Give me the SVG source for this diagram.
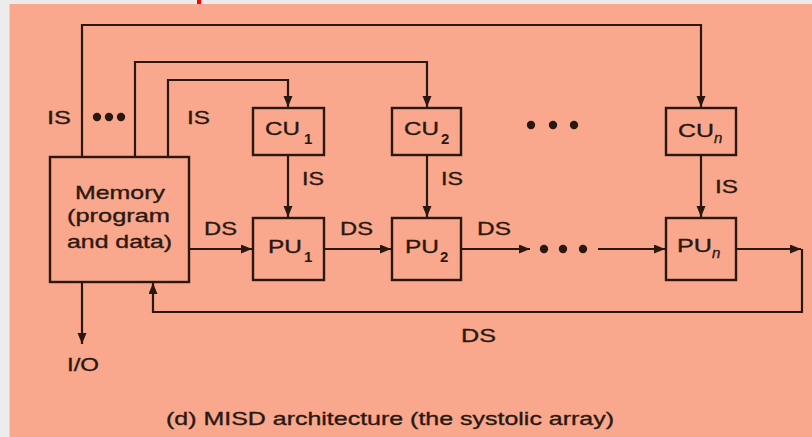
<svg xmlns="http://www.w3.org/2000/svg" width="812" height="437" viewBox="0 0 812 437">
<defs>
<marker id="ah" markerUnits="userSpaceOnUse" markerWidth="12" markerHeight="10" refX="11" refY="4.5" orient="auto">
<path d="M0,0 L11,4.5 L0,9 Z" fill="#2a1810"/>
</marker>
<style>
.bg{fill:#f9a88e}
.box{fill:none;stroke:#2a1810;stroke-width:2.4}
.ar{fill:none;stroke:#2a1810;stroke-width:2.2;marker-end:url(#ah)}
.t{font-family:"Liberation Sans",Arial,sans-serif;font-size:19px;fill:#2a1810;stroke:#2a1810;stroke-width:0.35}
.s{font-family:"Liberation Sans",Arial,sans-serif;font-size:15px;font-weight:bold;fill:#2a1810}
.si{font-family:"Liberation Sans",Arial,sans-serif;font-size:15px;font-style:italic;fill:#2a1810;stroke:#2a1810;stroke-width:0.35}
.dot{fill:#2a1810}
</style>
</defs>
<rect x="0" y="0" width="812" height="437" fill="#ececec"/>
<rect class="bg" x="9.5" y="4" width="802.5" height="433"/>
<rect x="197" y="0" width="4" height="4" fill="#ff0000"/>

<g id="connectors">
<path class="ar" d="M82,157 V25 H701 V107"/>
<path class="ar" d="M135,157 V62 H427 V107"/>
<path class="ar" d="M168,157 V80 H288 V107"/>
<path class="ar" d="M288,155 V217"/>
<path class="ar" d="M427,155 V217"/>
<path class="ar" d="M701,155 V217"/>
<path class="ar" d="M189,249 H252"/>
<path class="ar" d="M324,249 H391"/>
<path class="ar" d="M461,249 H530"/>
<path class="ar" d="M598,249 H665"/>
<path class="ar" d="M736,249 H801"/>
<path class="ar" d="M802,249 V312 H153 V283"/>
<path class="ar" d="M82,282 V344"/>
<circle class="dot" cx="97" cy="117" r="4.2"/>
<circle class="dot" cx="109" cy="117" r="4.2"/>
<circle class="dot" cx="121" cy="117" r="4.2"/>
<circle class="dot" cx="531" cy="125" r="4.2"/>
<circle class="dot" cx="553" cy="125" r="4.2"/>
<circle class="dot" cx="574" cy="125" r="4.2"/>
<circle class="dot" cx="544" cy="249" r="4.2"/>
<circle class="dot" cx="563" cy="249" r="4.2"/>
<circle class="dot" cx="583" cy="249" r="4.2"/>
<text class="t" x="47" y="124" textLength="24" lengthAdjust="spacingAndGlyphs">IS</text>
<text class="t" x="187" y="124" textLength="23" lengthAdjust="spacingAndGlyphs">IS</text>
<text class="t" x="302" y="185" textLength="22" lengthAdjust="spacingAndGlyphs">IS</text>
<text class="t" x="441" y="185" textLength="22" lengthAdjust="spacingAndGlyphs">IS</text>
<text class="t" x="715" y="193" textLength="23" lengthAdjust="spacingAndGlyphs">IS</text>
<text class="t" x="204" y="235" textLength="33" lengthAdjust="spacingAndGlyphs">DS</text>
<text class="t" x="340" y="235" textLength="33" lengthAdjust="spacingAndGlyphs">DS</text>
<text class="t" x="477" y="235" textLength="34" lengthAdjust="spacingAndGlyphs">DS</text>
<text class="t" x="461" y="342" textLength="35" lengthAdjust="spacingAndGlyphs">DS</text>
<text class="t" x="67" y="371" textLength="32" lengthAdjust="spacingAndGlyphs">I/O</text>
</g>

<g id="memory">
<rect class="box" x="50" y="157" width="139" height="125"/>
<text class="t" x="75" y="199" textLength="90" lengthAdjust="spacingAndGlyphs">Memory</text>
<text class="t" x="67" y="222" textLength="103" lengthAdjust="spacingAndGlyphs">(program</text>
<text class="t" x="67" y="248" textLength="105" lengthAdjust="spacingAndGlyphs">and data)</text>
</g>

<g id="cu1">
<rect class="box" x="253" y="108" width="71" height="47"/>
<text class="t" x="265" y="135" textLength="35" lengthAdjust="spacingAndGlyphs">CU</text>
<text class="s" x="304" y="144">1</text>
</g>
<g id="cu2">
<rect class="box" x="392" y="108" width="69" height="47"/>
<text class="t" x="404" y="135" textLength="35" lengthAdjust="spacingAndGlyphs">CU</text>
<text class="s" x="441" y="144">2</text>
</g>
<g id="cun">
<rect class="box" x="666" y="108" width="70" height="47"/>
<text class="t" x="678" y="137" textLength="36" lengthAdjust="spacingAndGlyphs">CU</text>
<text class="si" x="714" y="143">n</text>
</g>

<g id="pu1">
<rect class="box" x="253" y="218" width="71" height="62"/>
<text class="t" x="268" y="253" textLength="34" lengthAdjust="spacingAndGlyphs">PU</text>
<text class="s" x="304" y="262">1</text>
</g>
<g id="pu2">
<rect class="box" x="392" y="218" width="69" height="62"/>
<text class="t" x="405" y="253" textLength="34" lengthAdjust="spacingAndGlyphs">PU</text>
<text class="s" x="440" y="262">2</text>
</g>
<g id="pun">
<rect class="box" x="666" y="218" width="70" height="62"/>
<text class="t" x="677" y="252" textLength="35" lengthAdjust="spacingAndGlyphs">PU</text>
<text class="si" x="712" y="258">n</text>
</g>

<g id="caption">
<text class="t" x="166" y="425" textLength="448" lengthAdjust="spacingAndGlyphs">(d) MISD architecture (the systolic array)</text>
</g>
</svg>
